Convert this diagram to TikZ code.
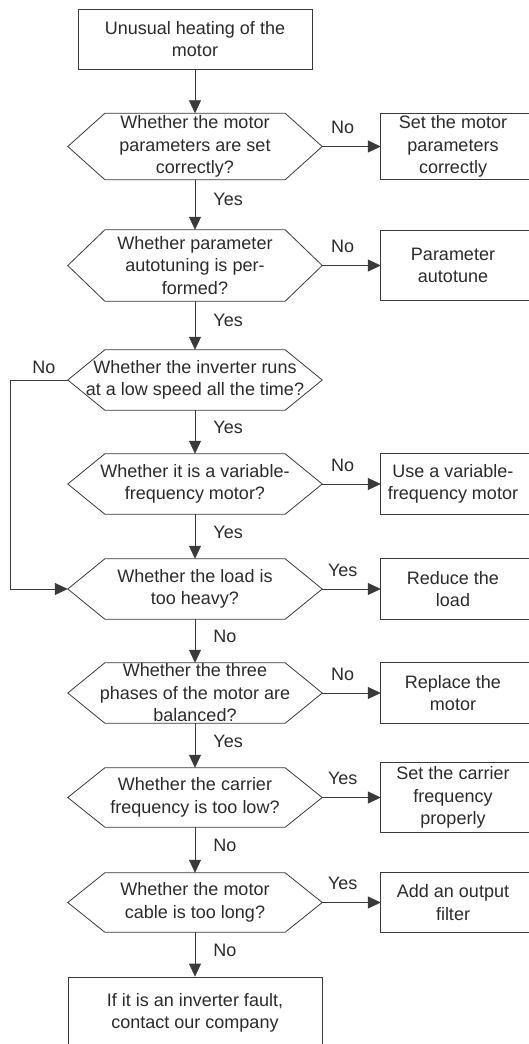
\documentclass[tikz,border=0pt]{standalone}
\usepackage{fontspec}
\setmainfont{Liberation Sans}
\usetikzlibrary{arrows.meta}

\definecolor{ink}{HTML}{2B2B2B}
\definecolor{wire}{HTML}{3A3A3A}

\tikzset{
  textfont/.style={font=\fontsize{18}{22.5}\selectfont, text=ink},
  edge/.style={draw=wire, line width=0.8pt},
  flow/.style={edge, -{Triangle[length=13pt, width=12pt]}},
  ask/.style={textfont, minimum width=254pt, inner sep=0pt, align=center},
  fix/.style={textfont, minimum width=144pt, inner sep=0pt, align=center},
  downlabel/.style={textfont, inner sep=0pt, anchor=west, xshift=18pt},
  sidelabel/.style={textfont, inner sep=0pt, anchor=south, yshift=12pt},
  looplabel/.style={textfont, inner sep=0pt, anchor=south, yshift=6pt},
}

\begin{document}
\begin{tikzpicture}[x=1pt, y=-1pt]
  \path [fill=white, use as bounding box] (0, 0) rectangle (529, 1044);

  % start and end
  \node [edge, textfont, minimum width=234pt, minimum height=60pt, inner sep=0pt, align=center] (start) at (195, 39) {Unusual heating of the\\motor};
  \node [edge, textfont, minimum width=254pt, minimum height=72pt, inner sep=0pt, align=center] (fin) at (195, 1013) {If it is an inverter fault,\\contact our company};

  % questions
  \node [ask, minimum height=66pt] (ask1) at (195, 146.5) {Whether the motor\\parameters are set\\correctly?};
  \node [ask, minimum height=71pt] (ask2) at (195, 265.5) {Whether parameter\\autotuning is per-\\formed?};
  \node [ask, minimum height=60pt] (ask3) at (195, 380) {Whether the inverter runs\\at a low speed all the time?};
  \node [ask, minimum height=60pt] (ask4) at (195, 484) {Whether it is a variable-\\frequency motor?};
  \node [ask, minimum height=60pt] (ask5) at (195, 589) {Whether the load is\\too heavy?};
  \node [ask, minimum height=60pt] (ask6) at (195, 693) {Whether the three\\phases of the motor are\\balanced?};
  \node [ask, minimum height=59pt] (ask7) at (195, 797.5) {Whether the carrier\\frequency is too low?};
  \node [ask, minimum height=59pt] (ask8) at (195, 902.5) {Whether the motor\\cable is too long?};

  % remedies
  \node [fix, minimum height=66pt] (fix1) at (453, 146.5) {Set the motor\\parameters\\correctly};
  \node [fix, minimum height=70pt] (fix2) at (453, 265.5) {Parameter\\autotune};
  \node [fix, minimum height=60pt] (fix4) at (453, 484) {Use a variable-\\frequency motor};
  \node [fix, minimum height=60pt] (fix5) at (453, 589) {Reduce the\\load};
  \node [fix, minimum height=60pt] (fix6) at (453, 693) {Replace the\\motor};
  \node [fix, minimum height=69pt] (fix7) at (453, 797.5) {Set the carrier\\frequency\\properly};
  \node [fix, minimum height=59pt] (fix8) at (453, 902.5) {Add an output\\filter};

  \foreach \i in {1,...,8}
    \draw [edge] (ask\i.west) -- ([xshift=37pt]ask\i.north west) -- ([xshift=-37pt]ask\i.north east) -- (ask\i.east) -- ([xshift=-37pt]ask\i.south east) -- ([xshift=37pt]ask\i.south west) -- cycle;
  \foreach \i in {1,2,4,5,6,7,8}
    \draw [edge] (fix\i.north west) rectangle ([xshift=40pt]fix\i.south east);

  % main line
  \draw [flow] (start.south) -- (ask1.north);
  \draw [flow] (ask1.south) -- node [downlabel, pos=0.4] {Yes} (ask2.north);
  \draw [flow] (ask2.south) -- node [downlabel, pos=0.4] {Yes} (ask3.north);
  \draw [flow] (ask3.south) -- node [downlabel, pos=0.4] {Yes} (ask4.north);
  \draw [flow] (ask4.south) -- node [downlabel, pos=0.4] {Yes} (ask5.north);
  \draw [flow] (ask5.south) -- node [downlabel, pos=0.4] {No} (ask6.north);
  \draw [flow] (ask6.south) -- node [downlabel, pos=0.4] {Yes} (ask7.north);
  \draw [flow] (ask7.south) -- node [downlabel, pos=0.4] {No} (ask8.north);
  \draw [flow] (ask8.south) -- node [downlabel, pos=0.4] {No} (fin.north);

  % side branches
  \draw [flow] (ask1.east) -- node [sidelabel, pos=0.35] {No} (fix1.west);
  \draw [flow] (ask2.east) -- node [sidelabel, pos=0.35] {No} (fix2.west);
  \draw [flow] (ask4.east) -- node [sidelabel, pos=0.35] {No} (fix4.west);
  \draw [flow] (ask5.east) -- node [sidelabel, pos=0.35] {Yes} (fix5.west);
  \draw [flow] (ask6.east) -- node [sidelabel, pos=0.35] {No} (fix6.west);
  \draw [flow] (ask7.east) -- node [sidelabel, pos=0.35] {Yes} (fix7.west);
  \draw [flow] (ask8.east) -- node [sidelabel, pos=0.35] {Yes} (fix8.west);

  % low speed loop
  \draw [flow] (ask3.west) -- node [looplabel, pos=0.42] {No} ++(-57, 0) |- (ask5.west);
\end{tikzpicture}
\end{document}
